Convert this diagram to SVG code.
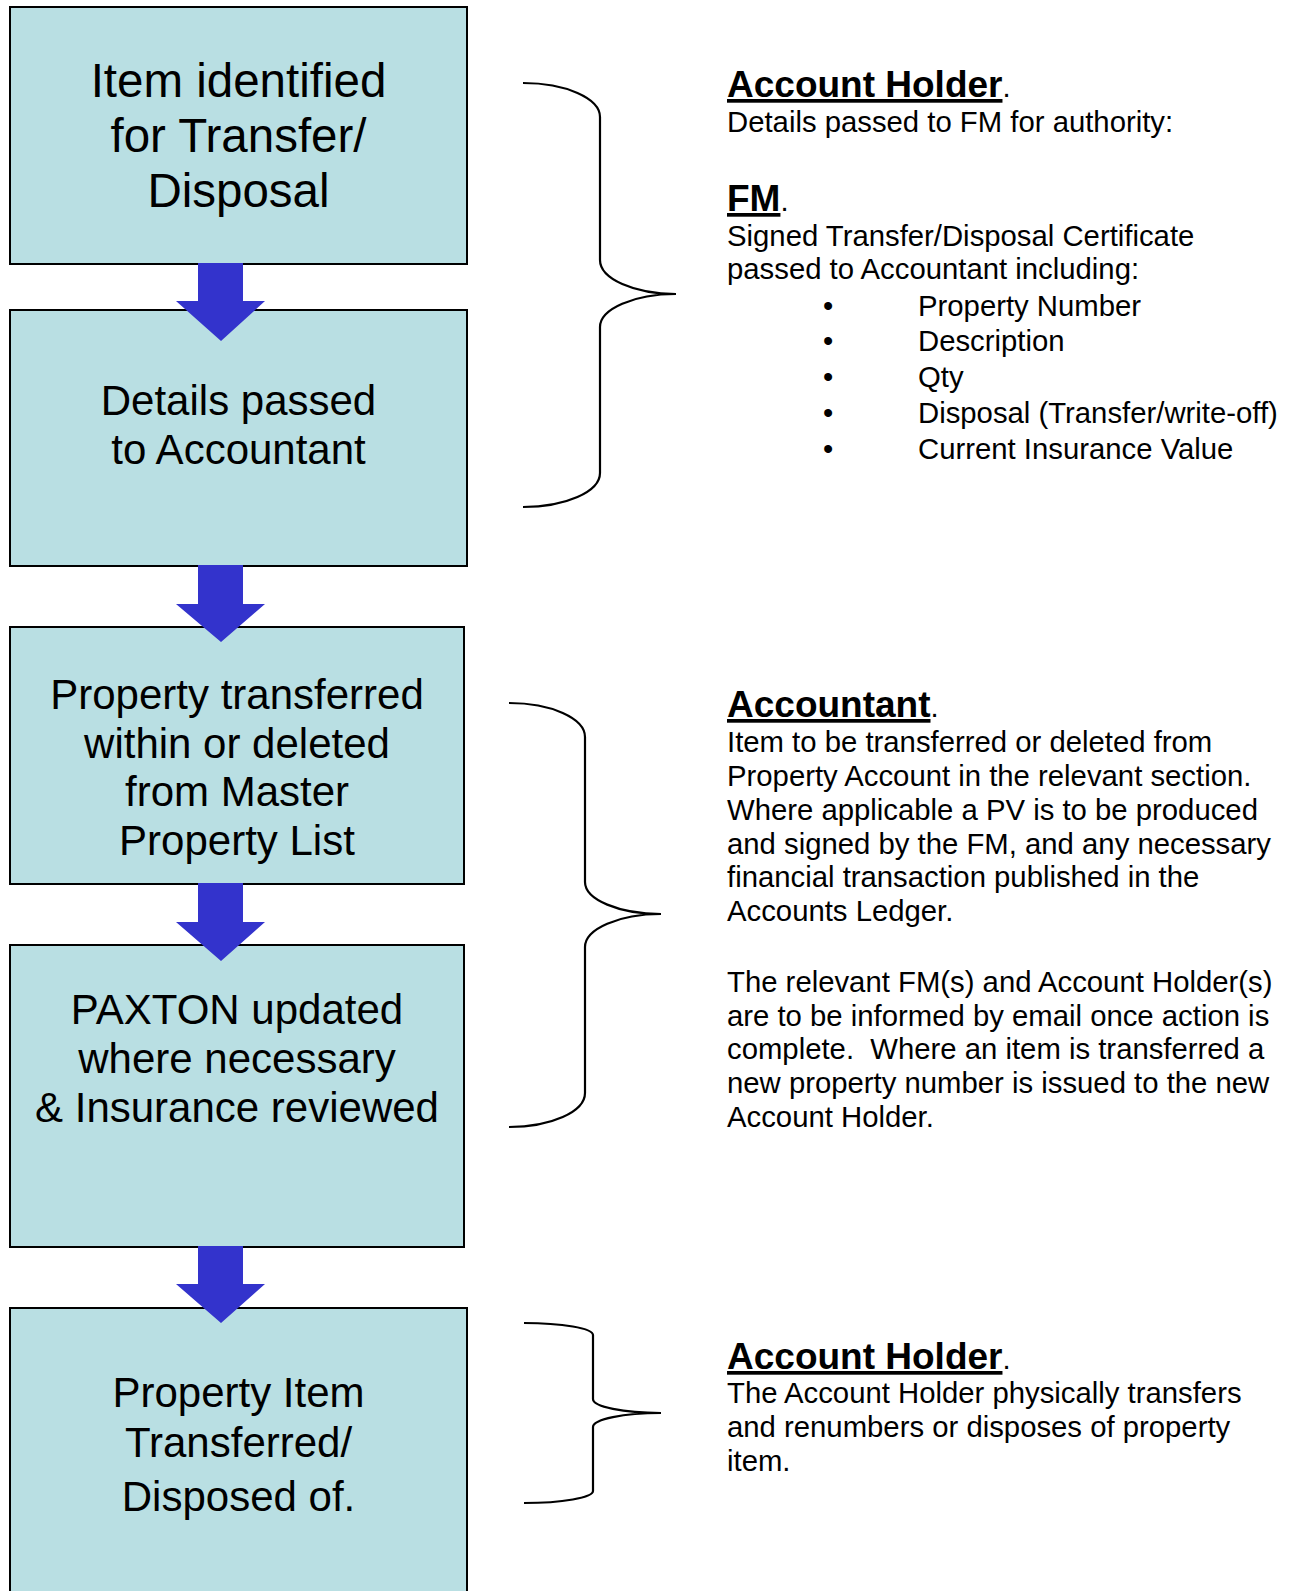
<svg xmlns="http://www.w3.org/2000/svg" width="1296" height="1591" viewBox="0 0 1296 1591">
<style>
.box{fill:#B9DFE3;stroke:#000;stroke-width:2}
.arrow{fill:#3333CC}
.brace{fill:none;stroke:#000;stroke-width:2.2}
.bt{font-family:"Liberation Sans",Arial,sans-serif;font-size:42px;fill:#000;text-anchor:middle}
.t{font-family:"Liberation Sans",Arial,sans-serif;font-size:29.3px;fill:#000}
.h{font-family:"Liberation Sans",Arial,sans-serif;font-size:37px;fill:#000}
.hb{font-weight:bold;text-decoration:underline}
</style>
<rect width="1296" height="1591" fill="#fff"/>
<g id="node1"><rect class="box" x="10" y="7" width="457" height="257"/>
<text class="bt" style="font-size:47.5px" x="238.5" y="97">Item identified</text>
<text class="bt" style="font-size:47.5px" x="238.5" y="152">for Transfer/</text>
<text class="bt" style="font-size:47.5px" x="238.5" y="207">Disposal</text></g>
<g id="node2"><rect class="box" x="10" y="310" width="457" height="256"/>
<text class="bt" x="238.5" y="415">Details passed</text>
<text class="bt" x="238.5" y="464">to Accountant</text></g>
<g id="node3"><rect class="box" x="10" y="627" width="454" height="257"/>
<text class="bt" x="237" y="709">Property transferred</text>
<text class="bt" x="237" y="758">within or deleted</text>
<text class="bt" x="237" y="806">from Master</text>
<text class="bt" x="237" y="855">Property List</text></g>
<g id="node4"><rect class="box" x="10" y="945" width="454" height="302"/>
<text class="bt" x="237" y="1024">PAXTON updated</text>
<text class="bt" x="237" y="1073">where necessary</text>
<text class="bt" x="237" y="1122">&amp; Insurance reviewed</text></g>
<g id="node5"><rect class="box" x="10" y="1308" width="457" height="300"/>
<text class="bt" x="238.5" y="1407">Property Item</text>
<text class="bt" x="238.5" y="1457">Transferred/</text>
<text class="bt" x="238.5" y="1511">Disposed of.</text></g>
<g id="connectors">
<polygon class="arrow" points="198,263 243,263 243,301 265,301 221,341 176,301 198,301"/>
<polygon class="arrow" points="198,565 243,565 243,604 265,604 221,642 176,604 198,604"/>
<polygon class="arrow" points="198,883 243,883 243,922 265,922 221,961 176,922 198,922"/>
<polygon class="arrow" points="198,1246 243,1246 243,1284 265,1284 221,1323 176,1284 198,1284"/>
</g>
<g id="braces">
<path class="brace" d="M523,83 A77,34 0 0 1 600,117 L600,260 A76,34 0 0 0 676,294 A76,33 0 0 0 600,327 L600,473 A77,34 0 0 1 523,507"/>
<path class="brace" d="M509,703 A76,34 0 0 1 585,737 L585,882 A76,32 0 0 0 661,914 A76,33 0 0 0 585,947 L585,1093 A76,34 0 0 1 509,1127"/>
<path class="brace" d="M524,1323 A69,12 0 0 1 593,1335 L593,1399 A68,14 0 0 0 661,1413 A68,14 0 0 0 593,1427 L593,1491 A69,12 0 0 1 524,1503"/>
</g>
<g id="note1">
<text class="h" x="727" y="97"><tspan class="hb">Account Holder</tspan><tspan font-size="29.3">.</tspan></text>
<text class="t" x="727" y="132">Details passed to FM for authority:</text>
<text class="h" x="727" y="211"><tspan class="hb">FM</tspan><tspan font-size="29.3">.</tspan></text>
<text class="t" x="727" y="246">Signed Transfer/Disposal Certificate</text>
<text class="t" x="727" y="279">passed to Accountant including:</text>
<text class="t" x="823" y="316">•</text><text class="t" x="918" y="316">Property Number</text>
<text class="t" x="823" y="351">•</text><text class="t" x="918" y="351">Description</text>
<text class="t" x="823" y="387">•</text><text class="t" x="918" y="387">Qty</text>
<text class="t" x="823" y="423">•</text><text class="t" x="918" y="423">Disposal (Transfer/write-off)</text>
<text class="t" x="823" y="459">•</text><text class="t" x="918" y="459">Current Insurance Value</text>
</g>
<g id="note2">
<text class="h" x="727" y="717"><tspan class="hb">Accountant</tspan><tspan font-size="29.3">.</tspan></text>
<text class="t" x="727" y="752">Item to be transferred or deleted from</text>
<text class="t" x="727" y="786">Property Account in the relevant section.</text>
<text class="t" x="727" y="820">Where applicable a PV is to be produced</text>
<text class="t" x="727" y="854">and signed by the FM, and any necessary</text>
<text class="t" x="727" y="887">financial transaction published in the</text>
<text class="t" x="727" y="921">Accounts Ledger.</text>
<text class="t" x="727" y="992">The relevant FM(s) and Account Holder(s)</text>
<text class="t" x="727" y="1026">are to be informed by email once action is</text>
<text class="t" x="727" y="1059">complete.&#160; Where an item is transferred a</text>
<text class="t" x="727" y="1093">new property number is issued to the new</text>
<text class="t" x="727" y="1127">Account Holder.</text>
</g>
<g id="note3">
<text class="h" x="727" y="1369"><tspan class="hb">Account Holder</tspan><tspan font-size="29.3">.</tspan></text>
<text class="t" x="727" y="1403">The Account Holder physically transfers</text>
<text class="t" x="727" y="1437">and renumbers or disposes of property</text>
<text class="t" x="727" y="1471">item.</text>
</g>
</svg>
